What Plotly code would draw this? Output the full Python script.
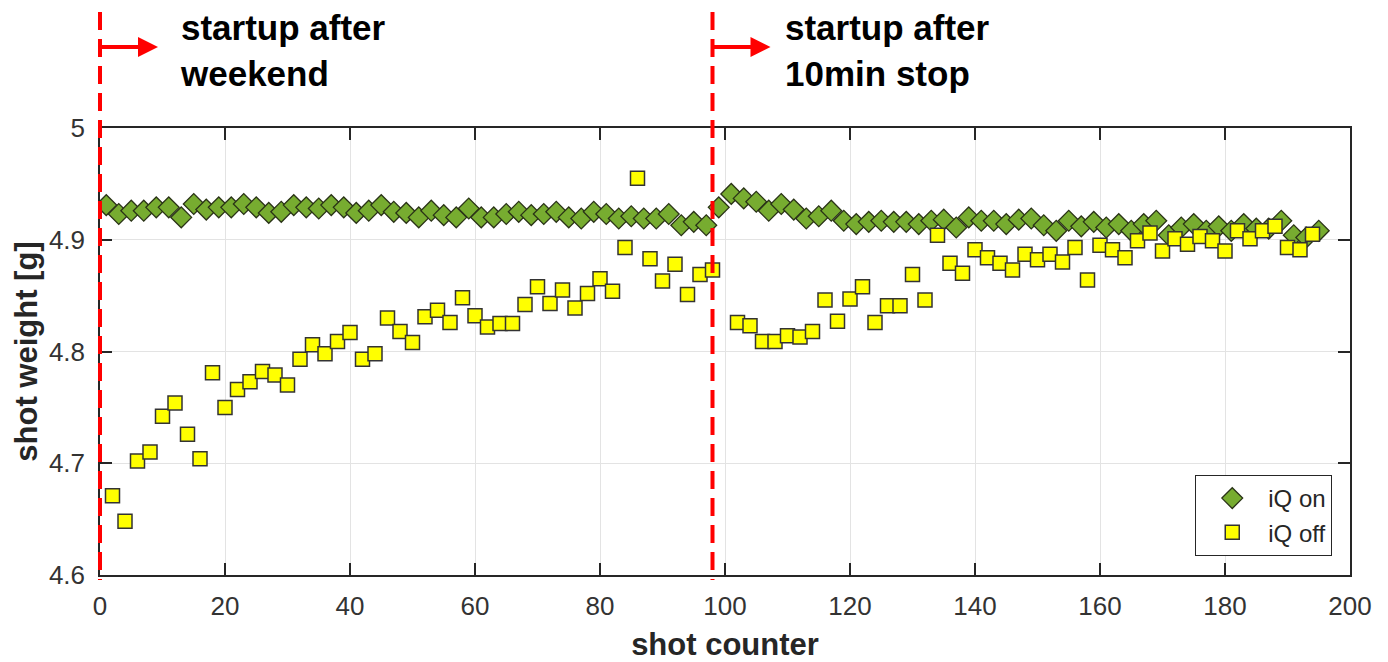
import plotly.graph_objects as go

# ---------------- data ----------------
iq_on_shots = list(range(1, 196, 2))
iq_on_weight = [
    4.931, 4.923, 4.926, 4.926, 4.929, 4.929, 4.920, 4.932, 4.927, 4.929,
    4.929, 4.932, 4.929, 4.924, 4.925, 4.931, 4.929, 4.928, 4.931, 4.929,
    4.924, 4.926, 4.931, 4.925, 4.924, 4.920, 4.926, 4.922, 4.920, 4.928,
    4.920, 4.920, 4.923, 4.925, 4.922, 4.923, 4.925, 4.920, 4.919, 4.925,
    4.923, 4.919, 4.921, 4.919, 4.919, 4.923, 4.913, 4.916, 4.913, 4.929,
    4.941, 4.937, 4.934, 4.926, 4.932, 4.927, 4.919, 4.921, 4.926, 4.917,
    4.914, 4.916, 4.917, 4.916, 4.916, 4.914, 4.917, 4.918, 4.911, 4.920,
    4.917, 4.917, 4.914, 4.918, 4.919, 4.913, 4.908, 4.917, 4.912, 4.916,
    4.911, 4.914, 4.908, 4.914, 4.917, 4.904, 4.911, 4.914, 4.908, 4.912,
    4.908, 4.914, 4.910, 4.910, 4.917, 4.904, 4.902, 4.908,
]

iq_off_shots = list(range(2, 100, 2)) + list(range(102, 196, 2))
iq_off_weight = [
    4.671, 4.648, 4.702, 4.710, 4.742, 4.754, 4.726, 4.704, 4.781, 4.750,
    4.766, 4.773, 4.782, 4.779, 4.770, 4.793, 4.806, 4.798, 4.809, 4.817,
    4.793, 4.798, 4.830, 4.818, 4.808, 4.831, 4.837, 4.826, 4.848, 4.832,
    4.822, 4.825, 4.825, 4.842, 4.858, 4.843, 4.855, 4.839, 4.852, 4.865,
    4.854, 4.893, 4.955, 4.883, 4.863, 4.878, 4.851, 4.869, 4.873,
    4.826, 4.823, 4.809, 4.809, 4.814, 4.813, 4.818, 4.846, 4.827, 4.847,
    4.858, 4.826, 4.841, 4.841, 4.869, 4.846, 4.904, 4.879, 4.870, 4.891,
    4.884, 4.879, 4.873, 4.887, 4.882, 4.887, 4.880, 4.893, 4.864, 4.895,
    4.891, 4.884, 4.899, 4.906, 4.890, 4.901, 4.896, 4.903, 4.899, 4.890,
    4.908, 4.901, 4.908, 4.912, 4.893, 4.891, 4.905,
]

event_shots = [0, 98]
event_labels = ["startup after<br>weekend", "startup after<br>10min stop"]

series_names = ["iQ on", "iQ off"]
x_tick_values = [0, 20, 40, 60, 80, 100, 120, 140, 160, 180, 200]
y_tick_values = [4.6, 4.7, 4.8, 4.9, 5.0]
y_tick_labels = ["4.6", "4.7", "4.8", "4.9", "5"]
x_title = "shot counter"
y_title = "shot weight [g]"

# ---------------- styling ----------------
X_RANGE = [0, 200]
Y_RANGE = [4.6, 5.0]
FONT = "Arial, Liberation Sans, sans-serif"
AXIS_COLOR = "#262626"
TICK_COLOR = "#333333"
GRID_COLOR = "#e3e3e3"

W, H = 1388, 662
M_L, M_R, M_T, M_B = 100, 38, 128, 87
plot_h = H - M_T - M_B
px_per_shot = (W - M_L - M_R) / (X_RANGE[1] - X_RANGE[0])
label_offsets_px = [78, 70]


def paper_x(shot):
    return (shot - X_RANGE[0]) / (X_RANGE[1] - X_RANGE[0])


def paper_y_from_top(px):
    return (H - M_B - px) / plot_h


fig = go.Figure()

fig.add_trace(go.Scatter(
    x=iq_on_shots, y=iq_on_weight, mode="markers", name=series_names[0],
    marker=dict(symbol="diamond", size=16, color="#77ac30",
                line=dict(color="#2a3317", width=1.3)),
))
fig.add_trace(go.Scatter(
    x=iq_off_shots, y=iq_off_weight, mode="markers", name=series_names[1],
    marker=dict(symbol="square", size=14, color="#ffff00",
                line=dict(color="#333333", width=1.5)),
))

shapes = []
annotations = []
arrow_len_px = 58
for shot, label, off in zip(event_shots, event_labels, label_offsets_px):
    xp = paper_x(shot)
    shapes.append(dict(
        type="line", xref="paper", yref="paper",
        x0=xp, x1=xp, y0=paper_y_from_top(12), y1=paper_y_from_top(580),
        line=dict(color="#ff0000", width=4, dash="18px,9px"), layer="above",
    ))
    annotations.append(dict(
        xref="x", yref="paper", axref="x", ayref="pixel",
        x=shot + arrow_len_px / px_per_shot, y=paper_y_from_top(47),
        ax=shot, ay=0, text="", showarrow=True,
        arrowhead=2, arrowsize=1, arrowwidth=4, arrowcolor="#ff0000",
    ))
    annotations.append(dict(
        xref="x", yref="paper",
        x=shot + off / px_per_shot, y=paper_y_from_top(50),
        xanchor="left", yanchor="middle", align="left",
        text="<b>" + label + "</b>", showarrow=False,
        font=dict(family=FONT, size=35, color="#000000"),
    ))

fig.update_layout(
    width=W, height=H,
    margin=dict(l=M_L, r=M_R, t=M_T, b=M_B, pad=0),
    paper_bgcolor="white", plot_bgcolor="white",
    font=dict(family=FONT, color=TICK_COLOR),
    showlegend=True,
    legend=dict(
        x=0.9858, y=0.0425, xanchor="right", yanchor="bottom",
        bgcolor="white", bordercolor=AXIS_COLOR, borderwidth=1,
        font=dict(family=FONT, size=24, color="#262626"),
        itemwidth=62, tracegroupgap=0,
    ),
    shapes=shapes,
    annotations=annotations,
)

fig.update_xaxes(
    range=X_RANGE, tickvals=x_tick_values,
    showline=True, linecolor=AXIS_COLOR, linewidth=1.5, mirror="ticks",
    ticks="inside", ticklen=12, tickwidth=1.5, tickcolor=AXIS_COLOR,
    showgrid=True, gridcolor=GRID_COLOR, gridwidth=1, zeroline=False,
    tickfont=dict(family=FONT, size=26, color=TICK_COLOR),
    ticklabelstandoff=7, automargin=False,
    title=dict(text="<b>" + x_title + "</b>", standoff=14,
               font=dict(family=FONT, size=31, color=AXIS_COLOR)),
)
fig.update_yaxes(
    range=Y_RANGE, tickvals=y_tick_values, ticktext=y_tick_labels,
    showline=True, linecolor=AXIS_COLOR, linewidth=1.5, mirror="ticks",
    ticks="inside", ticklen=12, tickwidth=1.5, tickcolor=AXIS_COLOR,
    showgrid=True, gridcolor=GRID_COLOR, gridwidth=1, zeroline=False,
    tickfont=dict(family=FONT, size=26, color=TICK_COLOR),
    ticklabelstandoff=8, automargin=False,
    title=dict(text="<b>" + y_title + "</b>", standoff=2,
               font=dict(family=FONT, size=31, color=AXIS_COLOR)),
)

fig.write_html("out.html")
